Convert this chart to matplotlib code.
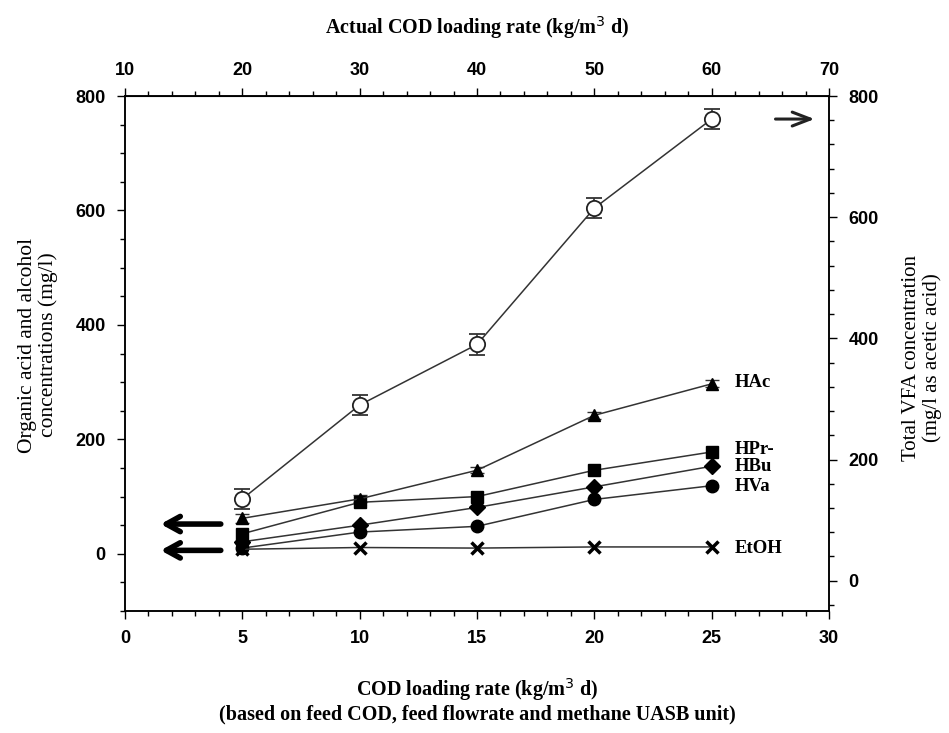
import matplotlib
matplotlib.use("Agg")
import matplotlib.pyplot as plt
from matplotlib.ticker import MultipleLocator, FixedLocator

# ---- data ----
x = [5, 10, 15, 20, 25]
total_vfa = [135, 290, 390, 615, 762]
total_vfa_err = [17, 17, 17, 17, 17]
hac = [62, 96, 146, 242, 297]
hac_err = [8, 6, 5, 6, 6]
hpr = [35, 90, 100, 146, 178]
hbu = [21, 50, 81, 117, 153]
hva = [10, 38, 48, 95, 119]
etoh = [8, 11, 10, 12, 12]
series_names = ["HAc", "HPr-", "HBu", "HVa", "EtOH"]
top_ticks = [10, 20, 30, 40, 50, 60, 70]

serif = ["Liberation Serif", "DejaVu Serif"]
sans = ["Liberation Sans", "DejaVu Sans"]

fig = plt.figure(figsize=(9.49, 7.33), dpi=100)
ax = fig.add_axes([0.1317, 0.1664, 0.7419, 0.7026])
ax2 = ax.twinx()

ax.set_xlim(0, 30)
ax.set_ylim(-100, 800)
ax2.set_ylim(-50, 800)

lc = "#333333"
common = dict(color=lc, lw=1.1, mfc="black", mec="black", zorder=3)
ax.errorbar(x, hac, yerr=hac_err, marker="^", ms=9, capsize=5, elinewidth=1.1, **common)
ax.plot(x, hpr, marker="s", ms=9, **common)
ax.plot(x, hbu, marker="D", ms=8, **common)
ax.plot(x, hva, marker="o", ms=9, **common)
ax.plot(x, etoh, marker="x", ms=9, mew=2.5, **common)

ax2.errorbar(x, total_vfa, yerr=total_vfa_err, marker="o", ms=11, mfc="white",
             mec="#222222", mew=1.3, color=lc, lw=1.1, capsize=6, elinewidth=1.2, zorder=4)

# series labels
lab_y = [hac[-1] + 2, hpr[-1] + 4, hbu[-1], hva[-1] - 1, etoh[-1] - 2]
for name, yy in zip(series_names, lab_y):
    ax.text(26.0, yy, name, fontsize=13.5, fontweight="bold", family=serif,
            va="center", ha="left")

# arrows
arrow_l = dict(arrowstyle="->,head_length=1.0,head_width=0.55", lw=4, color="black")
ax.annotate("", xy=(1.4, 52), xytext=(4.2, 52), arrowprops=arrow_l)
ax.annotate("", xy=(1.4, 6), xytext=(4.2, 6), arrowprops=arrow_l)
ax2.annotate("", xy=(29.5, 762), xytext=(27.6, 762),
             arrowprops=dict(arrowstyle="->,head_length=1.3,head_width=0.5", lw=2.2, color="#222222"))

# ticks
ax.xaxis.set_major_locator(MultipleLocator(5))
ax.xaxis.set_minor_locator(MultipleLocator(1))
ax.yaxis.set_major_locator(MultipleLocator(200))
ax.yaxis.set_minor_locator(MultipleLocator(50))
ax2.set_yticks([0, 200, 400, 600, 800])
ax2.yaxis.set_minor_locator(MultipleLocator(40))

for a in (ax, ax2):
    a.tick_params(which="major", length=6, width=1, labelsize=13, pad=8)
    a.tick_params(which="minor", length=3.5, width=1)
    for lbl in a.get_xticklabels() + a.get_yticklabels():
        lbl.set_fontweight("bold")
        lbl.set_family(sans)

top = ax.secondary_xaxis("top", functions=(lambda v: 2 * v + 10, lambda t: (t - 10) / 2))
top.xaxis.set_major_locator(FixedLocator(top_ticks))
top.xaxis.set_minor_locator(FixedLocator(list(range(10, 71, 2))))
top.tick_params(which="major", length=6, width=1, labelsize=13, pad=6)
top.tick_params(which="minor", length=3.5, width=1)
for lbl in top.get_xticklabels():
    lbl.set_fontweight("bold")
    lbl.set_family(sans)

for a in (ax, ax2):
    for s in a.spines.values():
        s.set_linewidth(1.1)

# axis titles
cx = 0.5 * (0.1317 + 0.8736)
fig.text(cx, 1 - 28 / 733, "Actual COD loading rate (kg/m$^3$ d)",
         ha="center", va="center", fontsize=14.5, fontweight="bold", family=serif)
fig.text(cx, 1 - 690 / 733, "COD loading rate (kg/m$^3$ d)",
         ha="center", va="center", fontsize=14.5, fontweight="bold", family=serif)
fig.text(cx, 1 - 714 / 733,
         "(based on feed COD, feed flowrate and methane UASB unit)",
         ha="center", va="center", fontsize=14.5, fontweight="bold", family=serif)
fig.text(38 / 949, 1 - 345 / 733, "Organic acid and alcohol\nconcentrations (mg/l)",
         rotation=90, ha="center", va="center", fontsize=15.5, family=serif,
         linespacing=1.05)
fig.text(922 / 949, 1 - 358 / 733, "Total VFA concentration\n(mg/l as acetic acid)",
         rotation=90, ha="center", va="center", fontsize=15, family=serif,
         linespacing=1.05)

fig.savefig("out.png", dpi=100)
